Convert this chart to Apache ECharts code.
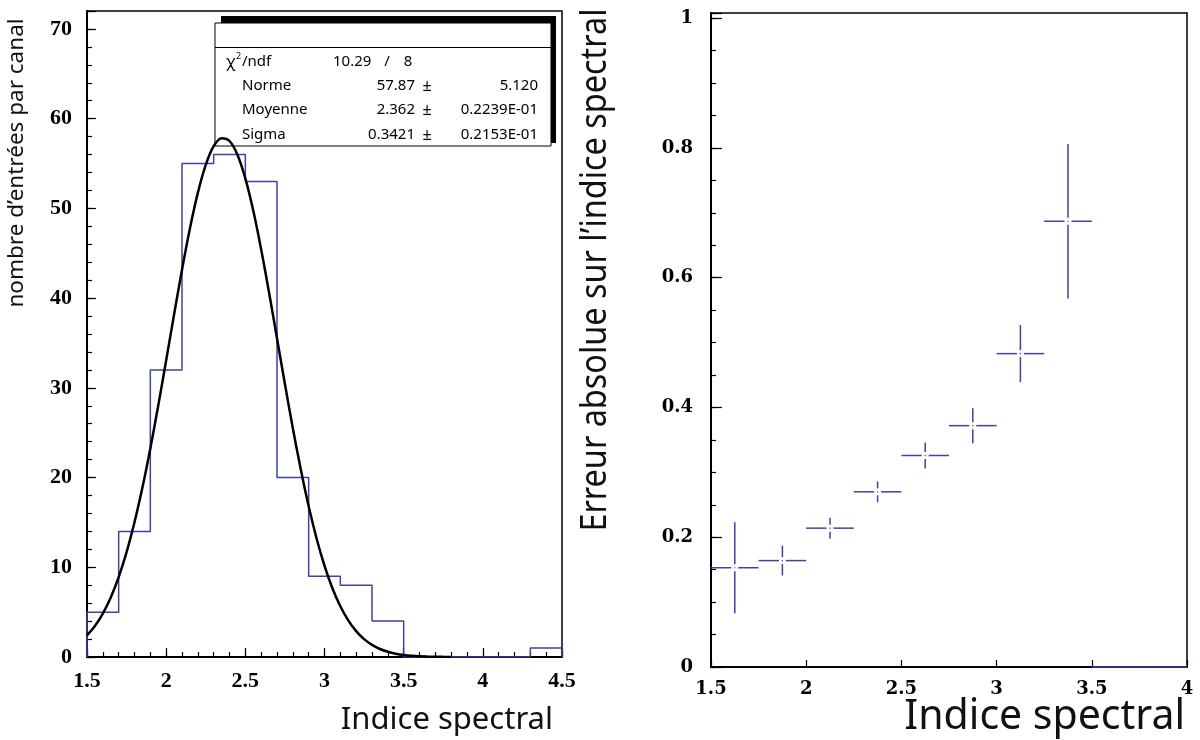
<!DOCTYPE html>
<html>
<head>
<meta charset="utf-8">
<script src="https://cdn.jsdelivr.net/npm/echarts@6/dist/echarts.min.js"></script>
<style>
html,body{margin:0;padding:0;background:#fff;}
#chart{width:1200px;height:740px;}
</style>
</head>
<body>
<div id="chart"></div>
<script>
// ---- Left panel: histogram of spectral index ----
const binEdges = [1.5, 1.7, 1.9, 2.1, 2.3, 2.5, 2.7, 2.9, 3.1, 3.3, 3.5, 4.3, 4.5];
const binCounts = [5, 14, 32, 55, 56, 53, 20, 9, 8, 4, 0, 1];

// Gaussian fit curve
const fitX = [1.50,1.55,1.60,1.65,1.70,1.75,1.80,1.85,1.90,1.95,2.00,2.05,2.10,2.15,2.20,2.25,2.30,2.35,2.40,2.45,2.50,2.55,2.60,2.65,2.70,2.75,2.80,2.85,2.90,2.95,3.00,3.05,3.10,3.15,3.20,3.25,3.30,3.35,3.40,3.45,3.50,3.55,3.60,3.65,3.70,3.75,3.80];
const fitY = [2.42,3.46,4.84,6.63,8.90,11.68,15.01,18.88,23.25,28.02,33.06,38.18,43.16,47.76,51.73,54.85,56.93,57.83,57.51,55.99,53.35,49.76,45.43,40.60,35.52,30.42,25.50,20.92,16.80,13.21,10.17,7.66,5.65,4.08,2.88,1.99,1.35,0.89,0.58,0.37,0.23,0.14,0.08,0.05,0.03,0.015,0.008];

// Fit statistics box
const chiLabel = ['10.29', '/', '8'];
const statNames = ['Norme', 'Moyenne', 'Sigma'];
const statValues = ['57.87', '2.362', '0.3421'];
const statErrors = ['5.120', '0.2239E-01', '0.2153E-01'];

// ---- Right panel: absolute error vs spectral index ----
const errX = [1.625, 1.875, 2.125, 2.375, 2.625, 2.875, 3.125, 3.375, 3.625, 3.875];
const errXHalf = [0.125, 0.125, 0.125, 0.125, 0.125, 0.125, 0.125, 0.125, 0.125, 0.125];
const errY = [0.153, 0.164, 0.214, 0.270, 0.326, 0.372, 0.483, 0.687, 0, 0];
const errYErr = [0.070, 0.023, 0.016, 0.016, 0.020, 0.027, 0.044, 0.119, 0, 0];

const leftXTicks = [1.5, 2, 2.5, 3, 3.5, 4, 4.5];
const leftYTicks = [0, 10, 20, 30, 40, 50, 60, 70];
const rightYTicks = [0, 0.2, 0.4, 0.6, 0.8, 1];

const BLUE = '#3c43a0';
const tickFontL = {fontFamily: 'Liberation Serif', fontWeight: 'bold', fontSize: 22, color: '#000'};
const tickFontR = {fontFamily: 'DejaVu Serif', fontWeight: 'bold', fontSize: 18, color: '#000'};
const isMult = (v, s) => Math.abs(v / s - Math.round(v / s)) < 1e-6;

const histPts = [[binEdges[0], 0]];
for (let i = 0; i < binCounts.length; i++) histPts.push([binEdges[i], binCounts[i]]);
histPts.push([binEdges[binEdges.length - 1], binCounts[binCounts.length - 1]]);
histPts.push([binEdges[binEdges.length - 1], 0]);

const fitPts = fitX.map((x, i) => [x, fitY[i]]);
const errData = errX.map((x, i) => [x, errY[i], errXHalf[i], errYErr[i]]);

const chart = echarts.init(document.getElementById('chart'), null, {renderer: 'canvas'});

const textFont = 'Noto Sans';
const boxText = [];
const rowsY = [86, 110, 135];
boxText.push({type: 'text', x: 226, y: 62, z: 6, style: {text: 'χ', font: '16px "' + textFont + '"', fill: '#000', verticalAlign: 'middle'}});
boxText.push({type: 'text', x: 236, y: 56, z: 6, style: {text: '2', font: '9px "' + textFont + '"', fill: '#000', verticalAlign: 'middle'}});
boxText.push({type: 'text', x: 242, y: 62, z: 6, style: {text: '/ndf', font: '15px "' + textFont + '"', fill: '#000', verticalAlign: 'middle'}});
boxText.push({type: 'text', x: 333, y: 62, z: 6, style: {text: chiLabel[0], font: '15px "' + textFont + '"', fill: '#000', verticalAlign: 'middle'}});
boxText.push({type: 'text', x: 387, y: 62, z: 6, style: {text: chiLabel[1], font: '15px "' + textFont + '"', fill: '#000', align: 'center', verticalAlign: 'middle'}});
boxText.push({type: 'text', x: 408, y: 62, z: 6, style: {text: chiLabel[2], font: '15px "' + textFont + '"', fill: '#000', align: 'center', verticalAlign: 'middle'}});
statNames.forEach((n, i) => {
  boxText.push({type: 'text', x: 242, y: rowsY[i], z: 6, style: {text: n, font: '15px "' + textFont + '"', fill: '#000', verticalAlign: 'middle'}});
  boxText.push({type: 'text', x: 415, y: rowsY[i], z: 6, style: {text: statValues[i], font: '15px "' + textFont + '"', fill: '#000', align: 'right', verticalAlign: 'middle'}});
  boxText.push({type: 'text', x: 427, y: rowsY[i], z: 6, style: {text: '±', font: '16px "' + textFont + '"', fill: '#000', align: 'center', verticalAlign: 'middle'}});
  boxText.push({type: 'text', x: 538, y: rowsY[i], z: 6, style: {text: statErrors[i], font: '15px "' + textFont + '"', fill: '#000', align: 'right', verticalAlign: 'middle'}});
});

const option = {
  animation: false,
  backgroundColor: '#fff',
  grid: [
    {left: 87, top: 11, width: 475, height: 646, show: true, borderColor: '#000', borderWidth: 1.5, backgroundColor: 'transparent'},
    {left: 711, top: 13, width: 476, height: 654, show: true, borderColor: '#000', borderWidth: 1.5, backgroundColor: 'transparent'}
  ],
  xAxis: [
    {type: 'value', gridIndex: 0, min: 1.5, max: 4.5, interval: 0.1,
     axisLine: {show: true, onZero: false, lineStyle: {color: '#000', width: 2}},
     axisTick: {show: true, inside: true, length: 5, lineStyle: {color: '#000', width: 1.2}},
     splitLine: {show: false},
     axisLabel: Object.assign({margin: 13, formatter: v => (isMult(v, 0.5) && leftXTicks.some(t => Math.abs(t - v) < 1e-6)) ? String(+v.toFixed(1)) : ''}, tickFontL)},
    {type: 'value', gridIndex: 0, min: 1.5, max: 4.5, interval: 0.5, position: 'bottom',
     axisLine: {show: false}, axisTick: {show: true, inside: true, length: 9, lineStyle: {color: '#000', width: 1.2}},
     splitLine: {show: false}, axisLabel: {show: false}},
    {type: 'value', gridIndex: 1, min: 1.5, max: 4, interval: 0.5,
     axisLine: {show: true, onZero: false, lineStyle: {color: '#000', width: 2}},
     axisTick: {show: true, inside: true, length: 7, lineStyle: {color: '#000', width: 1.2}},
     splitLine: {show: false},
     axisLabel: Object.assign({margin: 13, formatter: v => String(+v.toFixed(1))}, tickFontR)}
  ],
  yAxis: [
    {type: 'value', gridIndex: 0, min: 0, max: 72, interval: 2,
     axisLine: {show: true, onZero: false, lineStyle: {color: '#000', width: 2}},
     axisTick: {show: true, inside: true, length: 5, lineStyle: {color: '#000', width: 1.2}},
     splitLine: {show: false},
     axisLabel: Object.assign({margin: 15, formatter: v => leftYTicks.some(t => Math.abs(t - v) < 1e-6) ? String(Math.round(v)) : ''}, tickFontL)},
    {type: 'value', gridIndex: 0, min: 0, max: 72, interval: 10, position: 'left',
     axisLine: {show: false}, axisTick: {show: true, inside: true, length: 9, lineStyle: {color: '#000', width: 1.2}},
     splitLine: {show: false}, axisLabel: {show: false}},
    {type: 'value', gridIndex: 1, min: 0, max: 1.008, interval: 0.05,
     axisLine: {show: true, onZero: false, lineStyle: {color: '#000', width: 2}},
     axisTick: {show: true, inside: true, length: 5, lineStyle: {color: '#000', width: 1.2}},
     splitLine: {show: false},
     axisLabel: Object.assign({margin: 18, formatter: v => rightYTicks.some(t => Math.abs(t - v) < 1e-6) ? String(+v.toFixed(1)) : ''}, tickFontR)},
    {type: 'value', gridIndex: 1, min: 0, max: 1.008, interval: 0.2, position: 'left',
     axisLine: {show: false}, axisTick: {show: true, inside: true, length: 11, lineStyle: {color: '#000', width: 1.2}},
     splitLine: {show: false}, axisLabel: {show: false}}
  ],
  series: [
    {type: 'line', xAxisIndex: 0, yAxisIndex: 0, data: histPts, step: 'end', showSymbol: false, symbol: 'none',
     lineStyle: {color: BLUE, width: 1.5}, z: 3, silent: true},
    {type: 'line', xAxisIndex: 0, yAxisIndex: 0, data: fitPts, smooth: 0.3, showSymbol: false, symbol: 'none',
     lineStyle: {color: '#000', width: 2.5}, z: 10, silent: true},
    {type: 'custom', xAxisIndex: 2, yAxisIndex: 2, data: errData, encode: {x: 0, y: 1}, z: 5, silent: true, clip: false,
     renderItem: function (params, api) {
       const x = api.value(0), y = api.value(1), xe = api.value(2), ye = api.value(3);
       const c = api.coord([x, y]);
       const l = api.coord([x - xe, y]);
       const r = api.coord([x + xe, y]);
       const t = api.coord([x, y + ye]);
       const b = api.coord([x, y - ye]);
       const st = {stroke: BLUE, lineWidth: 1.5};
       const g = ye > 0 ? 3.5 : 0;
       const ch = [];
       if (g > 0) {
         ch.push({type: 'line', shape: {x1: l[0], y1: c[1], x2: c[0] - g, y2: c[1]}, style: st});
         ch.push({type: 'line', shape: {x1: c[0] + g, y1: c[1], x2: r[0], y2: c[1]}, style: st});
         ch.push({type: 'line', shape: {x1: c[0], y1: t[1], x2: c[0], y2: c[1] - g}, style: st});
         ch.push({type: 'line', shape: {x1: c[0], y1: c[1] + g, x2: c[0], y2: b[1]}, style: st});
         ch.push({type: 'rect', shape: {x: c[0] - 0.6, y: c[1] - 0.6, width: 1.2, height: 1.2}, style: {fill: BLUE}});
       } else {
         ch.push({type: 'line', shape: {x1: l[0], y1: c[1], x2: r[0], y2: c[1]}, style: st});
       }
       return {type: 'group', children: ch};
     }}
  ],
  graphic: {elements: [
    {type: 'rect', shape: {x: 221, y: 16, width: 335, height: 127}, style: {fill: '#000'}, z: 4},
    {type: 'rect', shape: {x: 215, y: 23, width: 336, height: 123}, style: {fill: '#fff', stroke: '#000', lineWidth: 1}, z: 5},
    {type: 'line', shape: {x1: 215, y1: 47.5, x2: 551, y2: 47.5}, style: {stroke: '#000', lineWidth: 1}, z: 6},
    ...boxText,
    {type: 'text', x: 17, y: 163, rotation: Math.PI / 2, z: 6,
     style: {text: 'nombre d’entrées par canal', font: '22.5px "Noto Sans"', fill: '#111', align: 'center', verticalAlign: 'middle'}},
    {type: 'text', x: 553, y: 720, z: 6,
     style: {text: 'Indice spectral', font: '31px "Noto Sans"', fill: '#111', align: 'right', verticalAlign: 'middle'}},
    {type: 'text', x: 596, y: 270, rotation: Math.PI / 2, scaleX: 0.9, scaleY: 1, z: 6,
     style: {text: 'Erreur absolue sur l’indice spectral', font: '36px "Noto Sans"', fill: '#111', align: 'center', verticalAlign: 'middle'}},
    {type: 'text', x: 1185, y: 717, z: 6,
     style: {text: 'Indice spectral', font: '41px "Noto Sans"', fill: '#111', align: 'right', verticalAlign: 'middle'}}
  ]}
};
chart.setOption(option);
</script>
</body>
</html>
